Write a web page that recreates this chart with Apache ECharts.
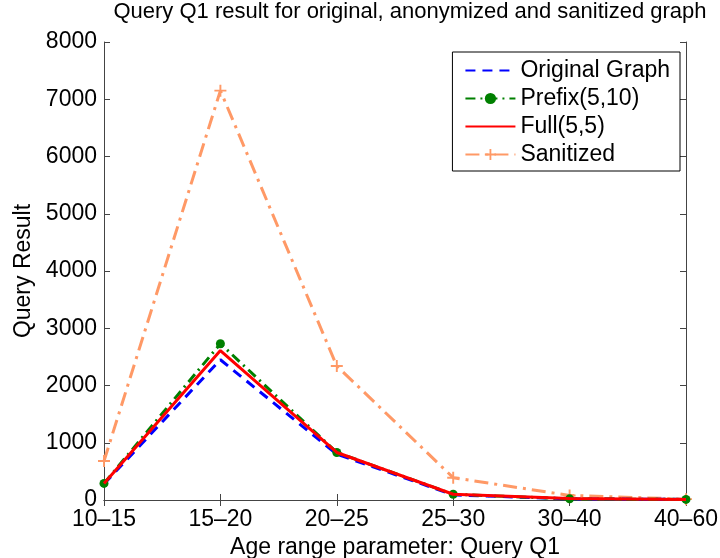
<!DOCTYPE html>
<html>
<head>
<meta charset="utf-8">
<script src="https://cdn.jsdelivr.net/npm/echarts@6/dist/echarts.min.js"></script>
<style>html,body{margin:0;padding:0;background:#fff}#c{width:720px;height:558px}</style>
</head>
<body>
<div id="c"></div>
<script>
const categories = ['10\u201315', '15\u201320', '20\u201325', '25\u201330', '30\u201340', '40\u201360'];
const originalGraph = [280, 2450, 800, 90, 20, 10];
const prefix510 = [290, 2730, 830, 100, 20, 10];
const full55 = [290, 2610, 830, 100, 25, 10];
const sanitized = [680, 7150, 2340, 390, 80, 15];
const yTicks = [0, 1000, 2000, 3000, 4000, 5000, 6000, 7000, 8000];

const FONT = 'Liberation Sans';
const plusPath = 'path://M4.2,0 L5.8,0 L5.8,4.2 L10,4.2 L10,5.8 L5.8,5.8 L5.8,10 L4.2,10 L4.2,5.8 L0,5.8 L0,4.2 L4.2,4.2 Z';

const chart = echarts.init(document.getElementById('c'));
const axisLine = { show: true, lineStyle: { color: '#444', width: 1 } };
const tick = { show: true, inside: true, length: 6, lineStyle: { color: '#444' } };
chart.setOption({
  animation: false,
  backgroundColor: '#fff',
  textStyle: { fontFamily: FONT },
  title: {
    text: 'Query Q1 result for original, anonymized and sanitized graph',
    left: 410, textAlign: 'center', top: 1, padding: 0,
    textStyle: { fontFamily: FONT, fontSize: 22, fontWeight: 'normal', color: '#000' }
  },
  grid: { left: 104, right: 34, top: 42, bottom: 58, containLabel: false, outerBoundsMode: 'none' },
  legend: {
    orient: 'vertical',
    right: 40, top: 52,
    padding: [7, 10, 5, 12],
    itemWidth: 50, itemHeight: 14, itemGap: 5,
    backgroundColor: '#fff',
    borderColor: '#000', borderWidth: 1,
    textStyle: { fontFamily: FONT, fontSize: 23, color: '#000' },
    data: ['Original Graph', 'Prefix(5,10)', 'Full(5,5)', 'Sanitized']
  },
  xAxis: [{
    type: 'category', data: categories, boundaryGap: false,
    name: 'Age range parameter: Query Q1', nameLocation: 'middle', nameGap: 33,
    nameTextStyle: { fontFamily: FONT, fontSize: 23, color: '#000' },
    axisLine: axisLine, axisTick: tick,
    axisLabel: { fontFamily: FONT, fontSize: 23, color: '#000', margin: 8 },
    splitLine: { show: false }
  }, {
    type: 'category', data: categories, boundaryGap: false, position: 'top',
    axisLine: axisLine, axisTick: tick,
    axisLabel: { show: false }, splitLine: { show: false }
  }],
  yAxis: [{
    type: 'value', min: 0, max: 8000, interval: 1000,
    name: 'Query Result', nameLocation: 'middle', nameGap: 64,
    nameTextStyle: { fontFamily: FONT, fontSize: 23, color: '#000' },
    axisLine: axisLine, axisTick: tick,
    axisLabel: { fontFamily: FONT, fontSize: 23, color: '#000', margin: 7,
      formatter: v => yTicks.indexOf(v) >= 0 ? String(v) : '' },
    splitLine: { show: false }
  }, {
    type: 'value', min: 0, max: 8000, interval: 1000, position: 'right',
    axisLine: axisLine, axisTick: tick,
    axisLabel: { show: false }, splitLine: { show: false }
  }],
  series: [
    {
      name: 'Sanitized', type: 'line', data: sanitized, z: 1,
      color: '#FF9966',
      symbol: plusPath, symbolSize: 12,
      itemStyle: { color: '#FF9966' },
      lineStyle: { color: '#FF9966', width: 3, type: [14, 6, 3, 6] }
    },
    {
      name: 'Original Graph', type: 'line', data: originalGraph, z: 2,
      symbol: 'circle', showSymbol: false,
      itemStyle: { color: 'rgba(0,0,0,0)' },
      lineStyle: { color: '#0000FF', width: 3, type: [10, 7] }
    },
    {
      name: 'Prefix(5,10)', type: 'line', data: prefix510, z: 3,
      color: '#008000', symbol: 'circle', symbolSize: 9,
      itemStyle: { color: '#008000' },
      lineStyle: { color: '#008000', width: 3, type: [10, 5, 2, 5] }
    },
    {
      name: 'Full(5,5)', type: 'line', data: full55, z: 4,
      symbol: 'circle', showSymbol: false,
      itemStyle: { color: 'rgba(0,0,0,0)' },
      lineStyle: { color: '#FF0000', width: 3 }
    }
  ]
});
</script>
</body>
</html>
